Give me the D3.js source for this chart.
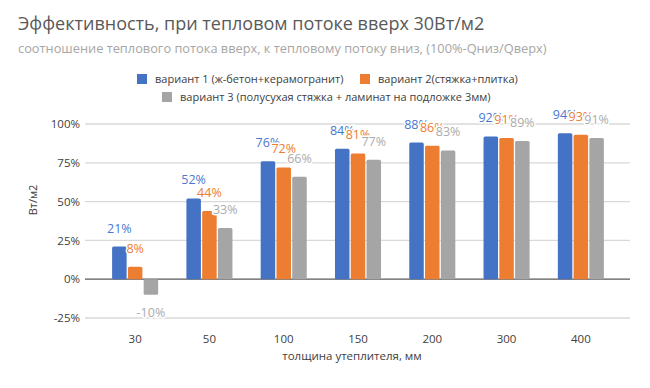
<!DOCTYPE html>
<html><head><meta charset="utf-8">
<script src="https://cdn.jsdelivr.net/npm/d3@7"></script>
<style>body{margin:0;background:#fff}svg{display:block;font-family:"Open Sans",sans-serif}</style>
</head><body><svg id="c" width="650" height="388"></svg>
<script>
const categories = ["30","50","100","150","200","300","400"];
const seriesNames = ["вариант 1 (ж-бетон+керамогранит)","вариант 2(стяжка+плитка)","вариант 3 (полусухая стяжка + ламинат на подложке 3мм)"];
const s1 = [21,52,76,84,88,92,94];
const s2 = [8,44,72,81,86,91,93];
const s3 = [-10,33,66,77,83,89,91];
const yTicks = [-25,0,25,50,75,100];
const colors = ["#4472C4","#ED7D31","#A5A5A5"];
const labelColors = ["#4a78d0","#ED7D31","#ababab"];
const series = [s1,s2,s3];

const svg = d3.select("#c");
svg.append("rect").attr("width",650).attr("height",388).attr("fill","#fff");
const x = d3.scaleBand().domain(categories).range([98,618]).paddingInner(0.38).paddingOuter(0.19);
const xs = d3.scaleBand().domain([0,1,2]).range([0,x.bandwidth()]).paddingInner(0.08);
const y = d3.scaleLinear().domain([-25,100]).range([318,124]);

svg.append("text").attr("x",18).attr("y",30).attr("font-size",18).attr("fill","#595959").text("Эффективность, при тепловом потоке вверх 30Вт/м2");
svg.append("text").attr("x",18).attr("y",53).attr("font-size",12.8).attr("fill","#a6a6a6").text("соотношение теплового потока вверх, к тепловому потоку вниз, (100%-Qниз/Qверх)");

// legend
const leg = [[137,79,0],[360,79,1],[162,97,2]];
leg.forEach(([lx,ly,i])=>{
  svg.append("rect").attr("x",lx).attr("y",ly-5).attr("width",10).attr("height",10).attr("fill",colors[i]);
  svg.append("text").attr("x",lx+18).attr("y",ly+4).attr("font-size",11).attr("fill","#404040").text(seriesNames[i]);
});

// grid
const grid = svg.append("g");
yTicks.forEach(t=>{
  grid.append("line").attr("x1",85).attr("x2",630).attr("y1",y(t)).attr("y2",y(t))
    .attr("stroke",t===0?"#595959":"#d9d9d9").attr("stroke-width",1.3);
});
const yAxis = d3.axisLeft(y).tickValues(yTicks).tickFormat(d=>d+"%").tickSize(0).tickPadding(0);
const ga = svg.append("g").attr("transform","translate(80,0)").call(yAxis);
ga.select(".domain").remove();
ga.selectAll("text").attr("font-size",11.5).attr("fill","#404040").attr("font-family","Open Sans");

const xAxis = d3.axisBottom(x).tickSize(0).tickPadding(0);
const gx = svg.append("g").attr("transform","translate(0,335)").call(xAxis);
gx.select(".domain").remove();
gx.selectAll("text").attr("font-size",11.5).attr("fill","#404040").attr("font-family","Open Sans");

svg.append("text").attr("transform","translate(37,200) rotate(-90)").attr("text-anchor","middle").attr("font-size",11).attr("fill","#404040").text("Вт/м2");
svg.append("text").attr("x",352).attr("y",360).attr("text-anchor","middle").attr("font-size",11.5).attr("fill","#404040").text("толщина утеплителя, мм");

series.forEach((vals,si)=>{
  const g = svg.append("g");
  g.selectAll("rect").data(vals).join("rect")
    .attr("x",(d,i)=>x(categories[i])+xs(si))
    .attr("y",d=>y(Math.max(0,d)))
    .attr("width",xs.bandwidth())
    .attr("height",d=>Math.abs(y(d)-y(0)))
    .attr("rx",1.5)
    .attr("fill",colors[si]);
});
series.forEach((vals,si)=>{
  const g = svg.append("g");
  g.selectAll("text").data(vals).join("text")
    .attr("x",(d,i)=>x(categories[i])+xs(si)+xs.bandwidth()/2)
    .attr("y",d=>d>=0? y(d)-14 : y(d)+22)
    .attr("text-anchor","middle").attr("font-size",12.5).attr("fill",labelColors[si])
    .attr("stroke","#fff").attr("stroke-width",3).attr("paint-order","stroke")
    .text(d=>d+"%");
});
</script></body></html>
